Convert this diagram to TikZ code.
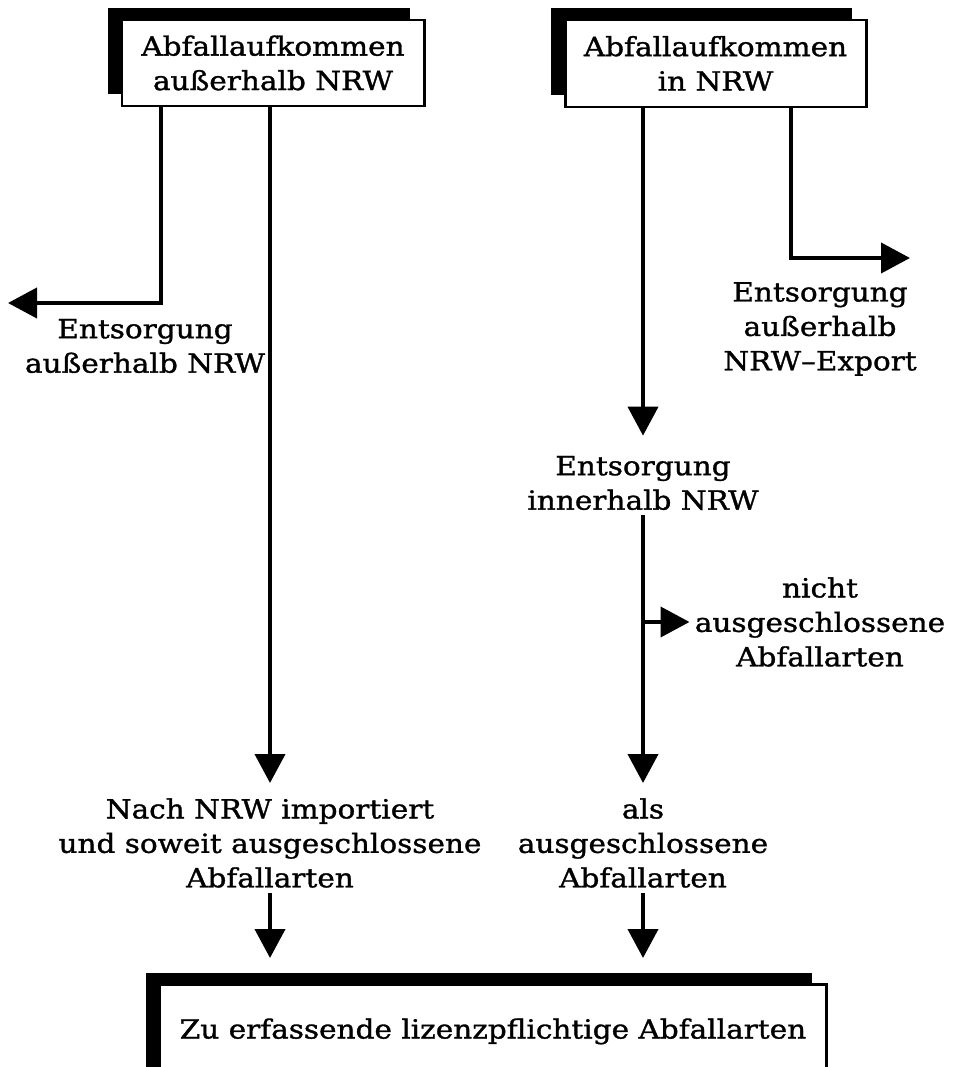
\documentclass[tikz,border=0pt]{standalone}
\usepackage{fontspec}
\setmainfont{DejaVu Serif}[FakeStretch=1.12,FakeBold=1.2]
\usepackage{tikz}
\usetikzlibrary{arrows.meta,positioning,calc,shadows}

\begin{document}
\begin{tikzpicture}[every node/.style={font=\fontsize{15}{19.6}\selectfont,align=center},
  box/.style={draw=black,fill=white,line width=1.7pt,inner sep=0pt,general shadow={shadow xshift=-0.28cm,shadow yshift=0.24cm,fill=black}},
  txt/.style={inner sep=0.1cm},
  flow/.style={-{Triangle[length=0.58cm,width=0.6cm]},line width=2.3pt}]
  \useasboundingbox (0,0) rectangle (19.12,-21.34);
  \clip (0,0) rectangle (19.12,-21.34);

  % Sources
  \node[box,minimum width=6.04cm,minimum height=1.72cm] (extern) at (5.46,-1.26) {Abfallaufkommen\\außerhalb NRW};
  \node[box,minimum width=6.02cm,minimum height=1.74cm] (intern) at (14.31,-1.27) {Abfallaufkommen\\in NRW};

  % Labels
  \node[txt] (eaus) at (2.9,-6.92) {Entsorgung\\außerhalb NRW};
  \node[txt] (eexp) at (16.4,-6.58) {Entsorgung\\außerhalb\\NRW--Export};
  \node[txt] (einn) at (12.86,-9.66) {Entsorgung\\innerhalb NRW};
  \node[txt] (nicht) at (16.4,-12.44) {nicht\\ausgeschlossene\\Abfallarten};
  \node[txt] (import) at (5.4,-16.86) {Nach NRW importiert\\und soweit ausgeschlossene\\Abfallarten};
  \node[txt] (als) at (12.86,-16.86) {als\\ausgeschlossene\\Abfallarten};

  % Target
  \node[box,anchor=north,minimum width=13.32cm,text height=1.08cm,text depth=1.3cm] (target) at (9.86,-19.66) {Zu erfassende lizenzpflichtige Abfallarten};

  % Flows
  \coordinate (lbend) at (3.22,-6.06);
  \coordinate (lout) at (0.16,-6.06);
  \coordinate (rbend) at (15.82,-5.16);
  \coordinate (rout) at (18.2,-5.16);
  \draw[flow] (lbend |- extern.south) -- (lbend) -- (lout);
  \draw[flow,shorten >=0.2cm] (extern.south -| import.north) -- (import.north);
  \draw[flow,shorten >=0.3cm] (intern.south -| einn.north) -- (einn.north);
  \draw[flow] (rbend |- intern.south) -- (rbend) -- (rout);
  \draw[flow,shorten >=0.2cm] (einn.south) -- (als.north);
  \draw[flow] (einn.south |- nicht.west) -- (nicht.west);
  \draw[flow,shorten >=0.5cm] (import.south) -- (import.south |- target.north);
  \draw[flow,shorten >=0.5cm] (als.south) -- (als.south |- target.north);
\end{tikzpicture}
\end{document}
